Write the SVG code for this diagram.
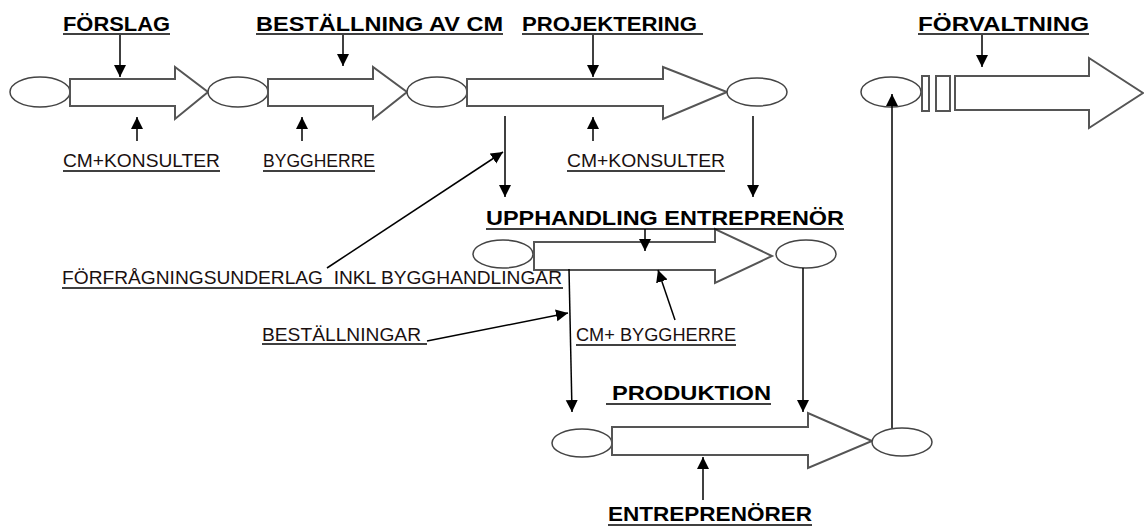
<svg xmlns="http://www.w3.org/2000/svg" width="1144" height="528" viewBox="0 0 1144 528">
  <style>
    .bg { fill: #ffffff; }
    .oval { fill: #ffffff; stroke: #444; stroke-width: 1.5; }
    .block { fill: #ffffff; stroke: #555; stroke-width: 2; stroke-linejoin: miter; }
    .head { font-family: "Liberation Sans", Arial, sans-serif; font-weight: bold; font-size: 21px; fill: #000; }
    .lbl { font-family: "Liberation Sans", Arial, sans-serif; font-size: 18px; fill: #1a1010; }
    .ul { stroke: #000; stroke-width: 1.5; }
    .conn { stroke: #000; stroke-width: 1.5; fill: none; marker-end: url(#tip); }
  </style>
  <defs>
    <marker id="tip" markerUnits="userSpaceOnUse" markerWidth="12" markerHeight="14" viewBox="0 0 12 14" refX="12" refY="7" orient="auto">
      <path d="M0,1 L12,7 L0,13 Z" fill="#000"/>
    </marker>
  </defs>
  <rect class="bg" x="0" y="0" width="1144" height="528"/>

  <!-- top row: proposal -> CM order -> design -->
  <g id="forslag">
    <ellipse class="oval" cx="40" cy="92" rx="30" ry="15"/>
    <path class="block" d="M70,79 H175 V67 L208,92 L175,119 V106 H70 Z"/>
    <text class="head" x="63" y="31" textLength="107" lengthAdjust="spacingAndGlyphs">FÖRSLAG</text>
    <line class="ul" x1="63" y1="34" x2="170" y2="34"/>
  </g>
  <g id="bestallning">
    <ellipse class="oval" cx="238" cy="92" rx="30" ry="15"/>
    <path class="block" d="M268,79 H373 V67 L407,92 L373,119 V106 H268 Z"/>
    <text class="head" x="256" y="31" textLength="247" lengthAdjust="spacingAndGlyphs">BESTÄLLNING AV CM</text>
    <line class="ul" x1="256" y1="34" x2="503" y2="34"/>
  </g>
  <g id="projektering">
    <ellipse class="oval" cx="437" cy="92" rx="30" ry="15"/>
    <path class="block" d="M467,79 H663 V67 L727,92 L663,119 V106 H467 Z"/>
    <text class="head" x="522" y="31" textLength="175" lengthAdjust="spacingAndGlyphs">PROJEKTERING</text>
    <line class="ul" x1="522" y1="34" x2="703" y2="34"/>
    <ellipse class="oval" cx="757" cy="92" rx="30" ry="14"/>
  </g>
  <g id="forvaltning">
    <ellipse class="oval" cx="891" cy="92" rx="30" ry="15"/>
    <rect class="block" x="922" y="76" width="7" height="35" stroke-width="1.5"/>
    <rect class="block" x="936" y="76" width="14" height="35" stroke-width="1.5"/>
    <path class="block" d="M955,76 H1089 V58 L1143,93 L1089,128 V110 H955 Z"/>
    <text class="head" x="918" y="31" textLength="171" lengthAdjust="spacingAndGlyphs">FÖRVALTNING</text>
    <line class="ul" x1="918" y1="34" x2="1089" y2="34"/>
  </g>

  <!-- procurement -->
  <g id="upphandling">
    <ellipse class="oval" cx="503" cy="254" rx="30" ry="14"/>
    <path class="block" d="M534,242 H715 V229 L772,256 L715,283 V270 H534 Z"/>
    <ellipse class="oval" cx="806" cy="254" rx="30" ry="14"/>
    <text class="head" x="486" y="225" textLength="358" lengthAdjust="spacingAndGlyphs">UPPHANDLING ENTREPRENÖR</text>
    <line class="ul" x1="486" y1="229" x2="844" y2="229"/>
  </g>

  <!-- production -->
  <g id="produktion">
    <ellipse class="oval" cx="582" cy="443" rx="30" ry="14"/>
    <path class="block" d="M612,427 H808 V413 L872,441 L808,468 V455 H612 Z"/>
    <ellipse class="oval" cx="902" cy="442" rx="30" ry="14"/>
    <text class="head" x="612" y="400" textLength="159" lengthAdjust="spacingAndGlyphs">PRODUKTION</text>
    <line class="ul" x1="606" y1="404" x2="771" y2="404"/>
  </g>

  <!-- actor / document labels -->
  <g id="labels">
    <text class="lbl" x="63" y="167" textLength="157" lengthAdjust="spacingAndGlyphs">CM+KONSULTER</text>
    <line class="ul" x1="63" y1="171" x2="220" y2="171"/>
    <text class="lbl" x="263" y="167" textLength="112" lengthAdjust="spacingAndGlyphs">BYGGHERRE</text>
    <line class="ul" x1="263" y1="171" x2="375" y2="171"/>
    <text class="lbl" x="567" y="167" textLength="158" lengthAdjust="spacingAndGlyphs">CM+KONSULTER</text>
    <line class="ul" x1="567" y1="171" x2="725" y2="171"/>
    <text class="lbl" x="62" y="284" textLength="500" lengthAdjust="spacingAndGlyphs" xml:space="preserve">FÖRFRÅGNINGSUNDERLAG  INKL BYGGHANDLINGAR</text>
    <line class="ul" x1="62" y1="288" x2="563" y2="288"/>
    <text class="lbl" x="262" y="341" textLength="159" lengthAdjust="spacingAndGlyphs">BESTÄLLNINGAR</text>
    <line class="ul" x1="262" y1="344" x2="427" y2="344"/>
    <text class="lbl" x="576" y="341" textLength="160" lengthAdjust="spacingAndGlyphs">CM+ BYGGHERRE</text>
    <line class="ul" x1="576" y1="345" x2="736" y2="345"/>
    <text class="head" x="608" y="521" textLength="204" lengthAdjust="spacingAndGlyphs">ENTREPRENÖRER</text>
    <line class="ul" x1="608" y1="525" x2="812" y2="525"/>
  </g>

  <!-- connectors -->
  <g id="connectors">
    <line class="conn" x1="120" y1="35" x2="120" y2="77"/>
    <line class="conn" x1="137" y1="141" x2="137" y2="117"/>
    <line class="conn" x1="343" y1="35" x2="343" y2="66"/>
    <line class="conn" x1="302" y1="141" x2="302" y2="117"/>
    <line class="conn" x1="593" y1="35" x2="593" y2="77"/>
    <line class="conn" x1="593" y1="141" x2="593" y2="117"/>
    <line class="conn" x1="505" y1="116" x2="505" y2="197"/>
    <line class="conn" x1="753" y1="116" x2="753" y2="197"/>
    <line class="conn" x1="327" y1="268" x2="503" y2="152"/>
    <line class="conn" x1="982" y1="35" x2="982" y2="67"/>
    <line class="conn" x1="892" y1="428" x2="892" y2="94"/>
    <line class="conn" x1="645" y1="229" x2="645" y2="251"/>
    <line class="conn" x1="675" y1="320" x2="658" y2="270"/>
    <line class="conn" x1="427" y1="341" x2="568" y2="313"/>
    <line class="conn" x1="569" y1="269" x2="572" y2="412"/>
    <line class="conn" x1="803" y1="268" x2="803" y2="412"/>
    <line class="conn" x1="703" y1="500" x2="703" y2="457"/>
  </g>
</svg>
